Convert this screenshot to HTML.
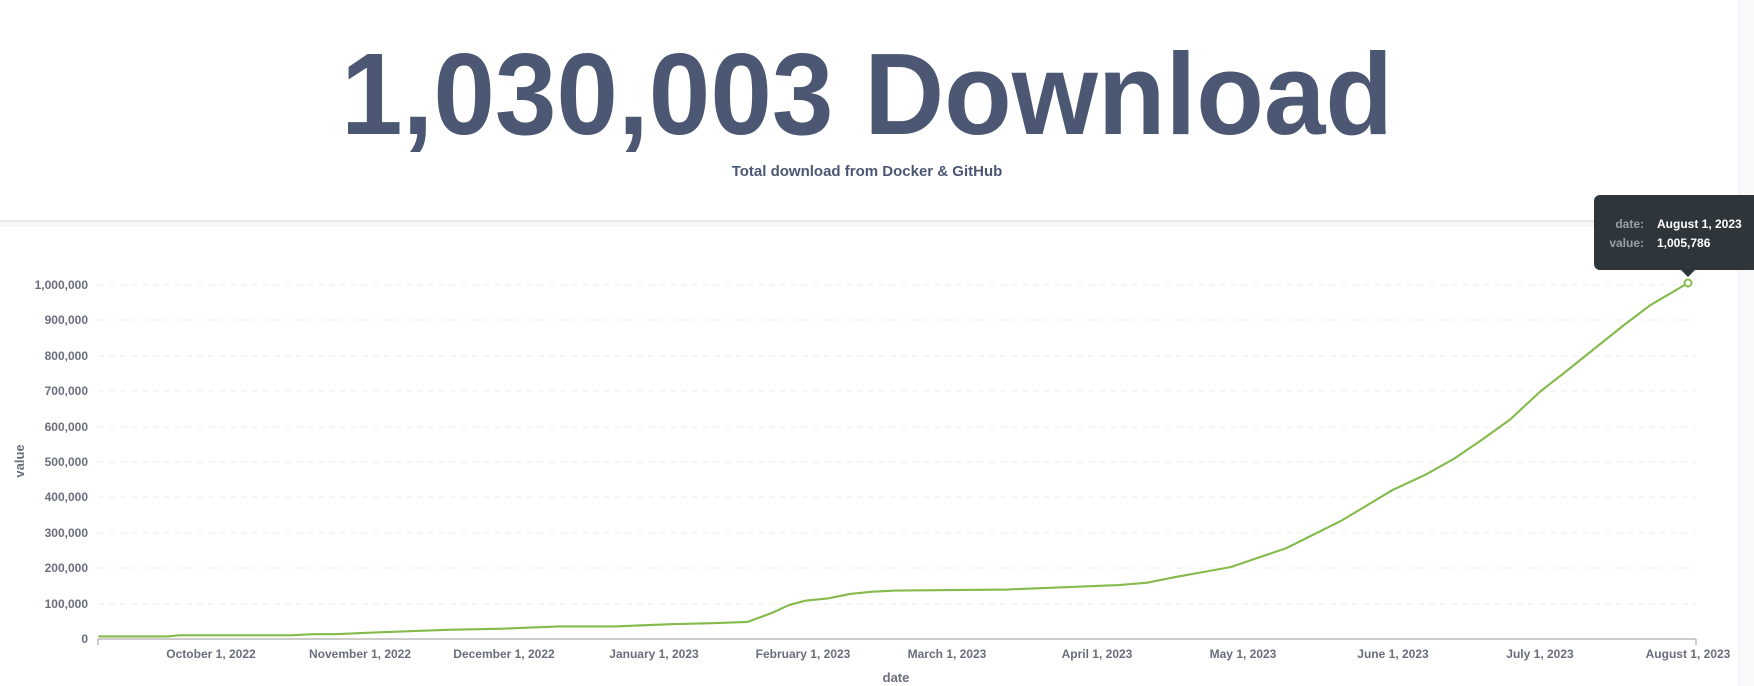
<!DOCTYPE html>
<html><head><meta charset="utf-8"><style>
html,body{margin:0;padding:0;background:#fff;}
svg{display:block;font-family:"Liberation Sans",sans-serif;}
</style></head><body>
<svg width="1754" height="686" viewBox="0 0 1754 686" xmlns="http://www.w3.org/2000/svg">
<rect x="0" y="0" width="1754" height="686" fill="#fff"/>
<rect x="1739" y="0" width="15" height="686" fill="#f7f9fa"/>
<line x1="1739" y1="0" x2="1739" y2="686" stroke="#eceef0"/>
<rect x="0" y="221" width="1739" height="6" fill="#f6f6f6"/>
<line x1="0" y1="221" x2="1739" y2="221" stroke="#e4e4e4" stroke-width="1.5"/>
<text x="867" y="134" text-anchor="middle" font-size="116" font-weight="bold" fill="#4c5773" textLength="1052" lengthAdjust="spacingAndGlyphs">1,030,003 Download</text>
<text x="867" y="176" text-anchor="middle" font-size="15" font-weight="bold" fill="#4c5773">Total download from Docker &amp; GitHub</text>
<g stroke="#ececec" stroke-dasharray="6,5" stroke-width="1">
<line x1="98" y1="285" x2="1696" y2="285"/><line x1="98" y1="320" x2="1696" y2="320"/>
<line x1="98" y1="356" x2="1696" y2="356"/><line x1="98" y1="391" x2="1696" y2="391"/>
<line x1="98" y1="427" x2="1696" y2="427"/><line x1="98" y1="462" x2="1696" y2="462"/>
<line x1="98" y1="497" x2="1696" y2="497"/><line x1="98" y1="533" x2="1696" y2="533"/>
<line x1="98" y1="568" x2="1696" y2="568"/><line x1="98" y1="604" x2="1696" y2="604"/>
</g>
<g font-size="12" font-weight="bold" fill="#696e7b" text-anchor="end">
<text x="88" y="289">1,000,000</text><text x="88" y="324">900,000</text><text x="88" y="360">800,000</text>
<text x="88" y="395">700,000</text><text x="88" y="431">600,000</text><text x="88" y="466">500,000</text>
<text x="88" y="501">400,000</text><text x="88" y="537">300,000</text><text x="88" y="572">200,000</text>
<text x="88" y="608">100,000</text><text x="88" y="643">0</text>
</g>
<path d="M98 639H1696M98 639v6M1696 639v6" stroke="#999" fill="none"/>
<g font-size="12" font-weight="bold" fill="#696e7b" text-anchor="middle">
<text x="211" y="658">October 1, 2022</text><text x="360" y="658">November 1, 2022</text>
<text x="504" y="658">December 1, 2022</text><text x="654" y="658">January 1, 2023</text>
<text x="803" y="658">February 1, 2023</text><text x="947" y="658">March 1, 2023</text>
<text x="1097" y="658">April 1, 2023</text><text x="1243" y="658">May 1, 2023</text>
<text x="1393" y="658">June 1, 2023</text><text x="1540" y="658">July 1, 2023</text>
<text x="1688" y="658">August 1, 2023</text>
</g>
<text x="896" y="682" text-anchor="middle" font-size="13" font-weight="bold" fill="#696e7b">date</text>
<text transform="translate(24,461) rotate(-90)" text-anchor="middle" font-size="13" font-weight="bold" fill="#696e7b">value</text>
<g transform="scale(1.1186)">
<path fill="none" stroke="#84bb4c" stroke-width="1.9" stroke-linejoin="round" d="M88 569L150 569L160 568L260 568L280 567L300 567L320 566L345 565L400 563L450 562L500 560L550 560L600 558L640 557L668 556L690 548L705 541L720 537L740 535L760 531L780 529L800 528L900 527L1000 523L1025 521L1050 516L1100 507L1150 490L1200 465L1245 438L1275 424L1300 410L1325 393L1350 375L1377 350L1400 332L1425 312L1450 292L1475 273L1509 253"/>
</g>
<circle cx="1688" cy="283" r="3.5" fill="#fff" stroke="#84bb4c" stroke-width="2"/>
<rect x="1594" y="195" width="175" height="75" rx="6" fill="#2e353b"/>
<path d="M1681 270L1688 277L1695 270Z" fill="#2e353b"/>
<g font-size="12" font-weight="bold">
<text x="1644" y="228" text-anchor="end" fill="#9aa0a6">date:</text>
<text x="1657" y="228" fill="#fff">August 1, 2023</text>
<text x="1644" y="247" text-anchor="end" fill="#9aa0a6">value:</text>
<text x="1657" y="247" fill="#fff">1,005,786</text>
</g>
</svg>
</body></html>
